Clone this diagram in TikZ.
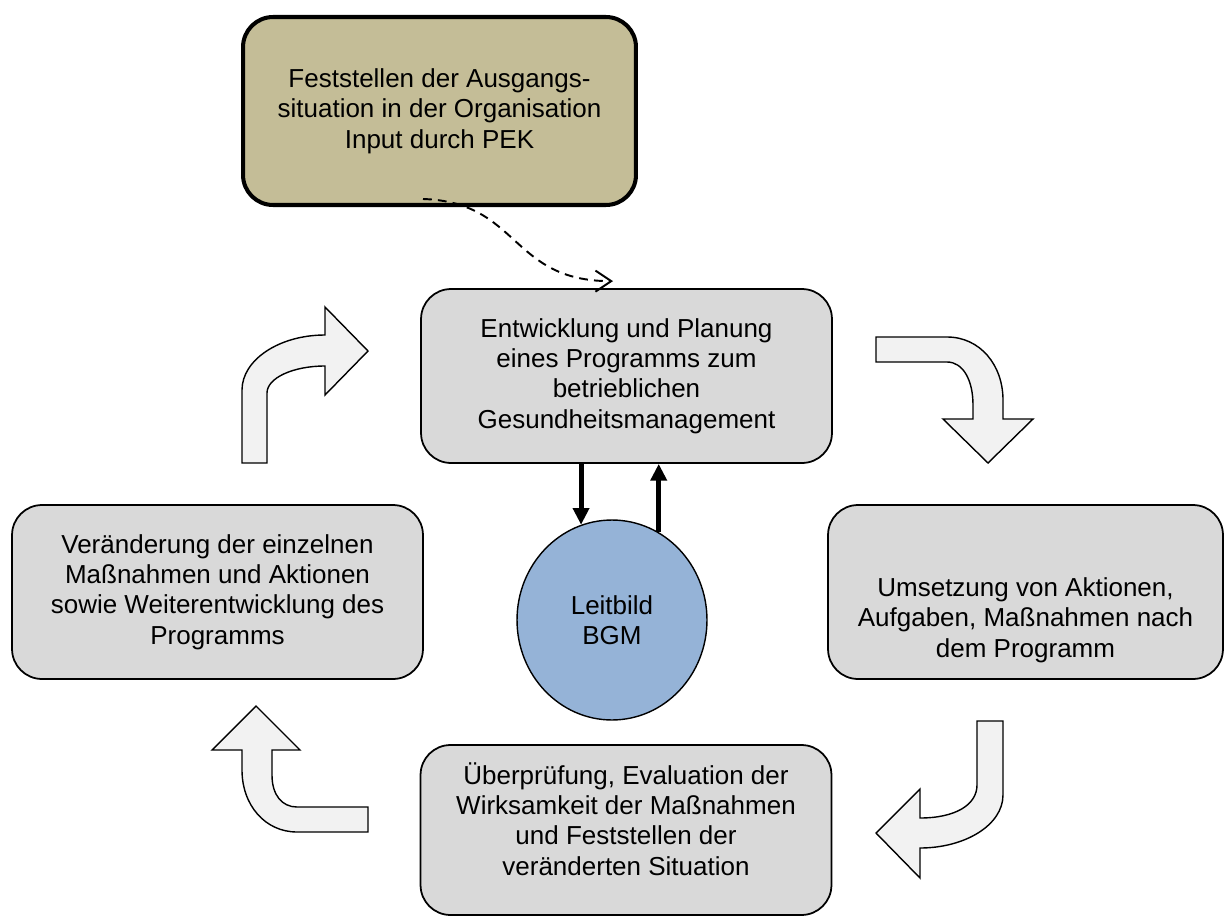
\documentclass[tikz,border=0pt]{standalone}
\usepackage{fontspec}
\setmainfont{Liberation Sans}
\usetikzlibrary{arrows.meta,shapes.geometric}
\definecolor{boxgray}{HTML}{D9D9D9}
\definecolor{khaki}{HTML}{C4BD97}
\definecolor{leitblue}{HTML}{95B3D7}
\definecolor{arrowgray}{HTML}{F2F2F2}
\begin{document}
\begin{tikzpicture}[x=0.02cm, y=-0.02cm,
    every node/.style={font=\fontsize{14.8}{17.3}\selectfont, align=center},
    box/.style={draw, line width=1pt, fill=boxgray, rounded corners=0.6cm,
        minimum width=8.22cm, minimum height=3.48cm, inner sep=0pt},
    bent/.style={draw, line width=0.8pt, fill=arrowgray},
    bar/.style={line width=2.8pt, -{Triangle[length=9.5pt,width=9pt]}},
    feed/.style={line width=1.1pt, dash pattern=on 5pt off 3.5pt,
        -{Straight Barb[length=9pt,width=12pt]}}]
  \useasboundingbox (0,0) rectangle (1224,916);
  % boxes of the cycle
  \node[box, line width=2.3pt, fill=khaki, minimum width=7.86cm, minimum height=3.76cm] (sit) at (439.5,111)
      {Feststellen der Ausgangs-\\situation in der Organisation\\Input durch PEK};
  \node[box] (plan) at (626.5,376)
      {Entwicklung und Planung\\eines Programms zum\\betrieblichen\\Gesundheitsmanagement};
  \node[box] (verand) at (217.5,592)
      {Ver\"anderung der einzelnen\\Ma\ss nahmen und Aktionen\\sowie Weiterentwicklung des\\Programms};
  \node[box, minimum width=7.9cm] (umset) at (1025.5,592) {};
  \node (umset-t) at ([yshift=-0.56cm]umset.center)
      {Umsetzung von Aktionen,\\Aufgaben, Ma\ss nahmen nach\\dem Programm};
  \node[box, minimum height=3.4cm] (eval) at (626,830) {};
  \node (eval-t) at ([yshift=0.22cm]eval.center)
      {\"Uberpr\"ufung, Evaluation der\\Wirksamkeit der Ma\ss nahmen\\und Feststellen der\\ver\"anderten Situation};
  \node[ellipse, draw, line width=0.8pt, fill=leitblue, minimum width=3.8cm, minimum height=4cm, inner sep=0pt] (leit) at (612,620)
      {Leitbild\\BGM};
  % links to the Leitbild
  \draw[bar] (plan.south -| leit.108) -- (leit.108);
  \draw[bar] (leit.62) -- (leit.62 |- plan.south);
  \draw[feed] ([xshift=-0.33cm,yshift=0.16cm]sit.south) .. controls +(97,3) and +(-103,0) .. ([xshift=-0.27cm,yshift=0.14cm]plan.north);
  % bent block arrows
  \draw[bent] (242,463) -- (242,390) .. controls (242,360) and (279,335) .. (325,335) -- (325,307) -- (368,351)
      -- (325,395) -- (325,366) .. controls (293,366) and (267,378) .. (267,393) -- (267,463) -- cycle;
  \draw[bent] (876,337) -- (947,337) .. controls (980,337) and (1003,365) .. (1003,400) -- (1003,419) -- (1033,419)
      -- (988,463) -- (943,419) -- (973,419) -- (973,405) .. controls (973,380) and (963,362) .. (947,362) -- (876,362) -- cycle;
  \draw[bent] (977,721) -- (1003,721) -- (1003,795) .. controls (1003,825) and (965,848) .. (920,848) -- (920,878)
      -- (876,833) -- (920,789) -- (920,818) .. controls (955,818) and (977,805) .. (977,785) -- cycle;
  \draw[bent] (368,807) -- (297,807) .. controls (282,807) and (272,795) .. (272,775) -- (272,750) -- (300,750)
      -- (256,706) -- (212,750) -- (242,750) -- (242,770) .. controls (242,805) and (265,832) .. (297,832) -- (368,832) -- cycle;
\end{tikzpicture}
\end{document}
